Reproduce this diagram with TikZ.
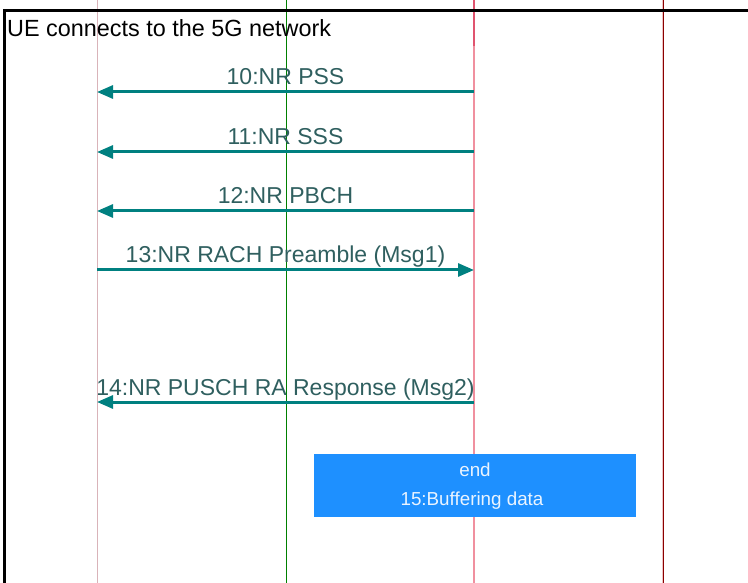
\documentclass[tikz,border=0pt]{standalone}
\usepackage{fontspec}
\setmainfont{Liberation Sans}
\usepackage{tikz}
\usetikzlibrary{arrows.meta,positioning}
\definecolor{msgteal}{HTML}{008080}
\definecolor{msgtext}{HTML}{2F5F5F}
\definecolor{uepink}{HTML}{D9B3B9}
\definecolor{midgreen}{HTML}{008000}
\definecolor{gnbpink}{HTML}{F0909F}
\definecolor{gnbdark}{HTML}{E0546F}
\definecolor{rhsred}{HTML}{8B0000}
\definecolor{rhsedge}{HTML}{ECC4C4}
\definecolor{notebox}{HTML}{1E90FF}
\definecolor{notetext}{HTML}{EAF4FF}

\begin{document}
\begin{tikzpicture}[x=1pt,y=-1pt]
  \tikzset{msg/.style={draw=msgteal,line width=3pt,-{Triangle[length=16pt,width=13pt]}},
    msg label/.style={midway,anchor=base,yshift=7pt,inner sep=0pt,text=msgtext,font=\fontsize{23}{27}\selectfont},
    note box/.style={fill=notebox,minimum width=322pt,minimum height=63pt,inner sep=0pt},
    note text/.style={anchor=base,inner sep=0pt,text=notetext,font=\fontsize{18.8}{23}\selectfont}}%
  \useasboundingbox (0,0) rectangle (748,583);

  % lifelines
  \coordinate (ue top) at (97,0);   \coordinate (ue bot) at (97,583);
  \coordinate (mid top) at (286,0); \coordinate (mid bot) at (286,583);
  \coordinate (gnb top) at (474,0); \coordinate (gnb act) at (474,46); \coordinate (gnb bot) at (474,583);
  \coordinate (rhs top) at (663,0); \coordinate (rhs bot) at (663,583);
  \draw[uepink,line width=1pt] (ue top) -- (ue bot);
  \draw[midgreen,line width=1pt] (mid top) -- (mid bot);
  \draw[gnbpink,line width=2pt] (gnb top) -- (gnb bot);
  \draw[gnbdark,line width=2pt] (gnb top) -- (gnb act);
  \draw[rhsedge,line width=1.8pt] (rhs top) -- (rhs bot);
  \draw[rhsred,line width=1pt] (rhs top) -- (rhs bot);

  \node[anchor=base west,inner sep=0pt,font=\fontsize{23.4}{28}\selectfont] (title) at (7,37) {UE connects to the 5G network};

  \coordinate (ue10) at (97,92);   \coordinate (gnb10) at (474,92);
  \coordinate (ue11) at (97,152);  \coordinate (gnb11) at (474,152);
  \coordinate (ue12) at (97,211);  \coordinate (gnb12) at (474,211);
  \coordinate (ue13) at (97,270);  \coordinate (gnb13) at (474,270);
  \coordinate (ue14) at (97,402);  \coordinate (gnb14) at (474,402);

  \draw[msg] (gnb10) -- node[msg label] (m10) {10:NR PSS} (ue10);
  \draw[msg] (gnb11) -- node[msg label] (m11) {11:NR SSS} (ue11);
  \draw[msg] (gnb12) -- node[msg label] (m12) {12:NR PBCH} (ue12);
  \draw[msg] (ue13) -- node[msg label] (m13) {13:NR RACH Preamble (Msg1)} (gnb13);
  \draw[msg] (gnb14) -- node[msg label] (m14) {14:NR PUSCH RA Response (Msg2)} (ue14);

  \node[note box] (buffer) at (475,485.5) {};
  \node[note text] (buffer end) at (475,476.7) {end};
  \node[note text] (buffer label) at (472,505.7) {15:Buffering data};

  % frame
  \draw[black,line width=3pt] (748,11) -- (4.5,11) -- (4.5,583);
\end{tikzpicture}
\end{document}
